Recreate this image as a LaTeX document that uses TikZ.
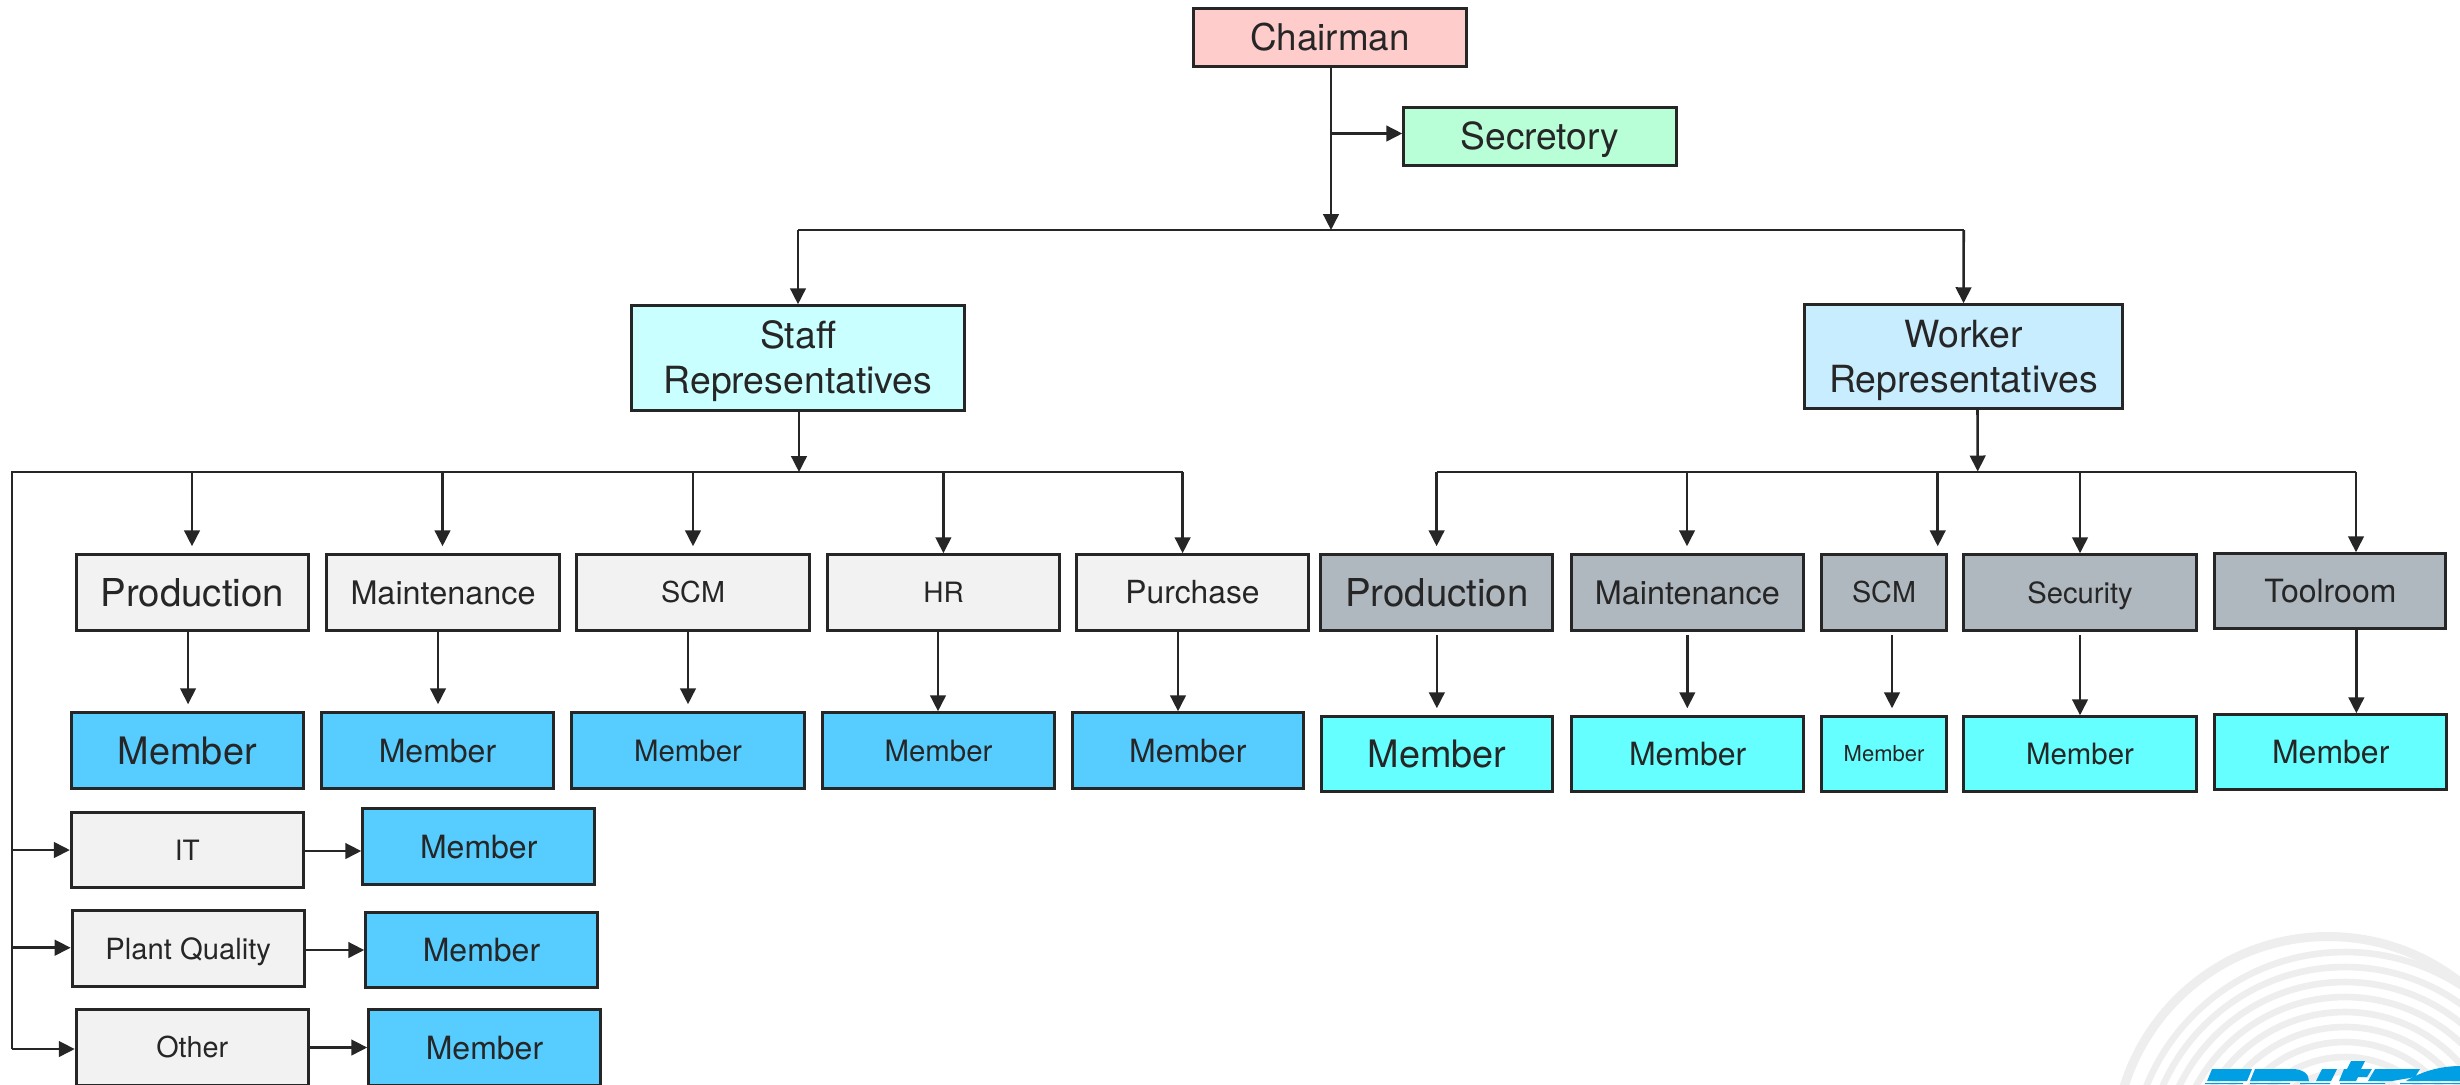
\documentclass[tikz,border=0pt]{standalone}
\usepackage{fontspec}
\setmainfont{TeX Gyre Heros}
\usetikzlibrary{arrows.meta,calc}
\definecolor{ink}{HTML}{262626}
\definecolor{cChair}{HTML}{FFCCCC}
\definecolor{cSec}{HTML}{B8FFD8}
\definecolor{cStaff}{HTML}{C9FFFF}
\definecolor{cWork}{HTML}{C7EDFF}
\definecolor{cGrey}{HTML}{F2F2F2}
\definecolor{cBlue}{HTML}{56CCFF}
\definecolor{cCyan}{HTML}{66FFFF}
\definecolor{cSlate}{HTML}{AFB7BF}
\definecolor{cRing}{HTML}{EEEEEE}
\definecolor{cLogo}{HTML}{009FE3}
\tikzset{
  box/.style={draw=ink,line width=1.5pt,inner sep=0pt,text=ink,align=center},
  arr/.style={draw=ink,line width=1.3pt,-{Triangle[length=8pt,width=7.8pt]}},
  busline/.style={draw=ink,line width=1pt,line join=miter},
  ring/.style={draw=cRing,line width=3.3pt},
  logo/.style={fill=cLogo,draw=none}
}
% [extra options], name, x1, y1, x2, y2, fill, font size (pt), text
\newcommand\bx[9][]{%
  \node[box,fill=#7,minimum width={(#5-#3-1.5)*0.5pt},minimum height={(#6-#4-1.5)*0.5pt},
    font=\fontsize{#8}{22.5}\selectfont,text height=\dimexpr #8pt*72/100\relax,text depth=0pt,#1]
    (#2) at ({(#3+#5)/2},{(#4+#6)/2}) {#9};}
\begin{document}
\begin{tikzpicture}[x=0.5pt,y=-0.5pt]
\useasboundingbox (0,0) rectangle (2460,1084);
\clip (0,0) rectangle (2460,1084);
\fill[white] (0,0) rectangle (2460,1084);
% watermark
\draw[cRing,line width=4.5pt] (2328,1150) circle[radius=106.75pt];
\foreach \r in {107,99.5,92,84.5,77,69.5,62,54.5,47}
  \draw[ring] (2345,1166) circle[radius=\r pt];
\fill[logo] (2207,1081) -- (2212,1069) -- (2252,1069) -- (2247,1081) -- cycle;
\fill[logo] (2250,1081) -- (2255,1069) -- (2292,1069) .. controls (2303,1069) and (2309,1074) .. (2309,1081) -- cycle;
\fill[logo] (2316,1081) -- (2322,1069) -- (2337,1069) -- (2331,1081) -- cycle;
\fill[logo] (2339,1081) -- (2344,1069) -- (2347,1069) -- (2351,1061) -- (2365,1061) -- (2361,1069) -- (2372,1069) -- (2367,1077) -- (2358,1077) -- (2356,1081) -- cycle;
\fill[logo] (2368,1081) -- (2375,1069) -- (2420,1069) -- (2415,1077) -- (2392,1081) -- cycle;
\fill[logo] (2406,1081) .. controls (2420,1072) and (2440,1066) .. (2460,1066) -- (2460,1081) -- cycle;
\fill[logo] (2205,1083) rectangle (2243,1084) (2250,1083) rectangle (2290,1084) (2300,1083) rectangle (2330,1084) (2340,1083) rectangle (2385,1084) (2400,1083) rectangle (2460,1084);
% top
\bx{chair}{1193}{8}{1467}{67}{cChair}{18.4}{Chairman}
\bx{sec}{1403}{107}{1677}{166}{cSec}{18.6}{Secretory}
\bx[text height=35.8pt]{staff}{631}{305}{965}{411}{cStaff}{18.7}{Staff\\Representatives}
\bx[text height=35.8pt]{worker}{1804}{304}{2123}{409}{cWork}{18.7}{Worker\\Representatives}
% staff departments
\bx{sp}{75.5}{554}{309}{631}{cGrey}{19.2}{Production}
\bx{sm}{326}{554}{560}{631}{cGrey}{16.2}{Maintenance}
\bx{ss}{576}{554}{810}{631}{cGrey}{14.4}{SCM}
\bx{sh}{827}{554}{1060}{631}{cGrey}{14}{HR}
\bx{su}{1076}{554}{1309}{631}{cGrey}{15.9}{Purchase}
\bx{mp}{70.6}{712}{304}{789}{cBlue}{18.9}{Member}
\bx{mm}{321}{712}{554}{789}{cBlue}{16}{Member}
\bx{ms}{571}{712}{805}{789}{cBlue}{14.7}{Member}
\bx{mh}{822}{712}{1055}{789}{cBlue}{14.7}{Member}
\bx{mu}{1071.5}{712}{1304}{789}{cBlue}{16}{Member}
% staff side departments
\bx{it}{70.6}{812}{304}{888}{cGrey}{14}{IT}
\bx{mi}{362}{808}{595.5}{885}{cBlue}{16}{Member}
\bx{pq}{71.4}{910}{305}{987}{cGrey}{14.6}{Plant Quality}
\bx{mq}{365}{912}{598}{988}{cBlue}{16}{Member}
\bx{ot}{75.5}{1009}{309}{1086}{cGrey}{14.4}{Other}
\bx{mo}{368}{1009}{601}{1086}{cBlue}{16}{Member}
% worker departments
\bx{wp}{1320}{554}{1553.7}{631}{cSlate}{19.2}{Production}
\bx{wm}{1570.6}{554}{1804}{631}{cSlate}{16.2}{Maintenance}
\bx{ws}{1821}{554}{1947}{631}{cSlate}{14.4}{SCM}
\bx{wc}{1963}{554}{2197}{631}{cSlate}{14.6}{Security}
\bx{wt}{2214}{553}{2446.7}{629}{cSlate}{16}{Toolroom}
\bx{np}{1320.7}{716}{1553.7}{792}{cCyan}{18.9}{Member}
\bx{nm}{1571}{716}{1804.4}{792}{cCyan}{16}{Member}
\bx{ns}{1821}{716}{1947}{792}{cCyan}{11}{Member}
\bx{nc}{1963}{716}{2197}{792}{cCyan}{14.7}{Member}
\bx{nt}{2214}{714}{2447.4}{790}{cCyan}{16}{Member}
% junction points
\coordinate (ta) at (1331,230);
\coordinate (tb) at (1331,133.5);
\coordinate (tl) at (798,230);
\coordinate (tr) at (1963.7,230);
\coordinate (ba) at (799,472);
\coordinate (bl) at (12,472);
\coordinate (br) at (1182.6,472);
\coordinate (b1) at (192,472);
\coordinate (b2) at (442.5,472);
\coordinate (b3) at (693,472);
\coordinate (b4) at (943.4,472);
\coordinate (li) at (12,850);
\coordinate (lq) at (12,947.7);
\coordinate (lo) at (12,1049);
\coordinate (wa) at (1977.7,471.5);
\coordinate (wl) at (1436.6,471.5);
\coordinate (wr) at (2356,471.5);
\coordinate (w2) at (1687,471.5);
\coordinate (w3) at (1937.7,471.5);
\coordinate (w4) at (2080,471.5);
% buses
\draw[busline] (tl) -- (tr);
\draw[busline] (lo) -- (bl) -- (br);
\draw[busline] (wl) -- (wr);
% top connectors
\draw[arr] ([xshift=0.5pt]chair.south) -- (ta);
\draw[arr] (tb) -- (tb -| sec.west);
\draw[arr] (tl) -- (staff.north);
\draw[arr] (tr) -- (worker.north);
\draw[arr] ([xshift=0.5pt]staff.south) -- (ba);
\draw[arr] ([xshift=7pt]worker.south) -- (wa);
% staff down connectors
\draw[arr,shorten >=3.5pt] (b1) -- (b1 |- sp.north);
\draw[arr,shorten >=3.5pt] (b2) -- (b2 |- sm.north);
\draw[arr,shorten >=3.5pt] (b3) -- (b3 |- ss.north);
\draw[arr] (b4) -- (b4 |- sh.north);
\draw[arr] (br) -- (br |- su.north);
\draw[arr,shorten >=3.5pt] ([xshift=-2.1pt]sp.south) -- ([xshift=-2.1pt]sp.south |- mp.north);
\draw[arr,shorten >=3.5pt] ([xshift=-2.5pt]sm.south) -- ([xshift=-2.5pt]sm.south |- mm.north);
\draw[arr,shorten >=3.5pt] ([xshift=-2.5pt]ss.south) -- ([xshift=-2.5pt]ss.south |- ms.north);
\draw[arr] ([xshift=-2.75pt]sh.south) -- ([xshift=-2.75pt]sh.south |- mh.north);
\draw[arr] ([xshift=-7.25pt]su.south) -- ([xshift=-7.25pt]su.south |- mu.north);
% side connectors
\draw[arr] (li) -- (li -| it.west);
\draw[arr] (lq) -- (lq -| pq.west);
\draw[arr] (lo) -- (lo -| ot.west);
\draw[arr] ([yshift=-0.5pt]it.east) -- ([yshift=-0.5pt]it.east -| mi.west);
\draw[arr] ([yshift=-0.75pt]pq.east) -- ([yshift=-0.75pt]pq.east -| mq.west);
\draw[arr] (ot.east) -- (ot.east -| mo.west);
% worker down connectors
\draw[arr,shorten >=3.5pt] (wl) -- (wl |- wp.north);
\draw[arr,shorten >=3.5pt] (w2) -- (w2 |- wm.north);
\draw[arr,shorten >=3.5pt] (w3) -- (w3 |- ws.north);
\draw[arr] (w4) -- (w4 |- wc.north);
\draw[arr] (wr) -- (wr |- wt.north);
\draw[arr,shorten <=1.5pt,shorten >=3.5pt] (wp.south) -- (wp.south |- np.north);
\draw[arr,shorten <=1.5pt,shorten >=3.5pt] (wm.south) -- (wm.south |- nm.north);
\draw[arr,shorten <=1.5pt,shorten >=3.5pt] ([xshift=4pt]ws.south) -- ([xshift=4pt]ws.south |- ns.north);
\draw[arr,shorten <=1.5pt] (wc.south) -- (wc.south |- nc.north);
\draw[arr] ([xshift=13pt]wt.south) -- ([xshift=13pt]wt.south |- nt.north);
\end{tikzpicture}
\end{document}
